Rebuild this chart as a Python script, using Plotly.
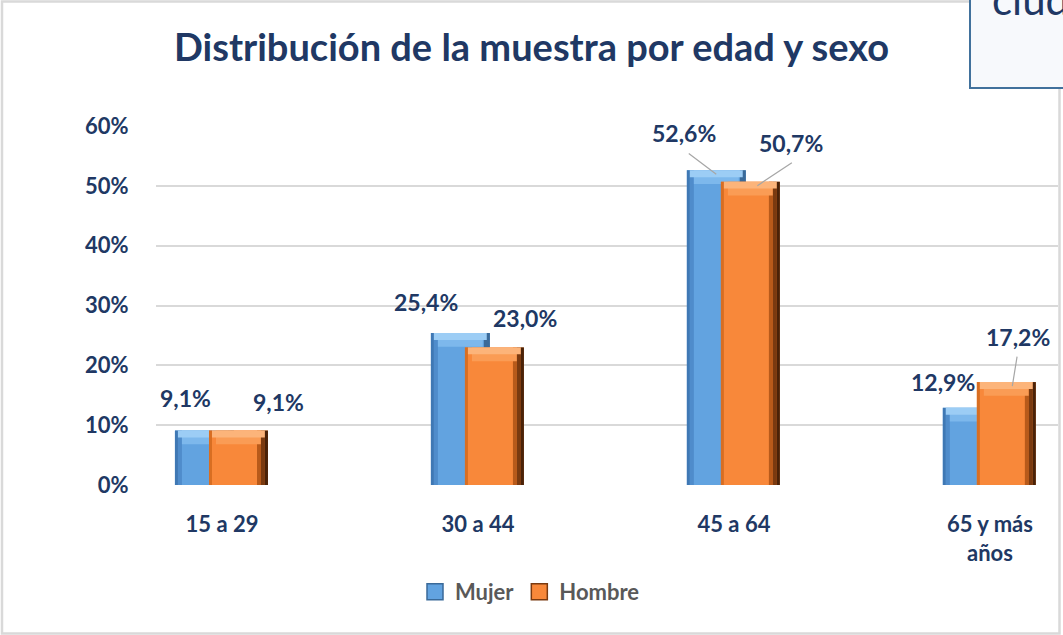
import plotly.graph_objects as go

# ---------------- data ----------------
categories = ["15 a 29", "30 a 44", "45 a 64", "65 y más años"]
category_labels = ["15 a 29", "30 a 44", "45 a 64", "65 y más<br>años"]
mujer = [9.1, 25.4, 52.6, 12.9]
hombre = [9.1, 23.0, 50.7, 17.2]
y_ticks = [0, 10, 20, 30, 40, 50, 60]
series_names = ["Mujer", "Hombre"]
title_text = "Distribución de la muestra por edad y sexo"

# ---------------- styling ----------------
W, H = 1063, 635
ML, MR, MT, MB = 156, 5, 126, 150
PW = W - ML - MR
PH = H - MT - MB
UNIT_PX = 256.0  # pixels per category step

def px_x(px):
    return (px - ML) / PW

def px_y(py):
    return (H - MB - py) / PH

NAVY = "#203864"
FONT = "Lato"

def fmt(v):
    return f"{v:.1f}%".replace(".", ",")

fig = go.Figure()

BW = 0.23
BEVEL = 2.3  # height of the lighter top face, in axis units

def add_bar(vals, base, offset, width, color):
    fig.add_trace(go.Bar(
        x=categories, y=vals, base=base, width=width, offset=offset,
        marker=dict(color=color, line=dict(width=0)),
        showlegend=False, hoverinfo="skip",
    ))

def add_series(vals, offset, main, top, top2, strips):
    add_bar(vals, None, offset, BW, main)
    for (start_px, w_px, col) in strips:
        add_bar(vals, None, offset + start_px / UNIT_PX, w_px / UNIT_PX, col)
    add_bar([BEVEL] * len(vals), [v - BEVEL for v in vals],
            offset + 7 / UNIT_PX, BW - 14 / UNIT_PX, top2)
    add_bar([BEVEL * 0.5] * len(vals), [v - BEVEL * 0.5 for v in vals],
            offset + 3 / UNIT_PX, BW - 6 / UNIT_PX, top)

M_OFF, H_OFF = -0.184, -0.051
add_series(mujer, M_OFF, "#62A3E0", "#9CCDF5", "#7DB8EC",
           [(0, 3, "#3F78B4"), (3, 4, "#4F8CCB"), (53, 6, "#3A6A99")])
add_series(hombre, H_OFF, "#F8883A", "#FCB47A", "#FA9C55",
           [(0, 3, "#D86E22"), (48, 4, "#B85A1A"), (52, 4, "#7A3A10"), (56, 3, "#4A2208")])

# legend entries (large square swatches)
for name, col, edge in [(series_names[0], "#62A3E0", "#3A6A99"),
                        (series_names[1], "#F8883A", "#7A3A10")]:
    fig.add_trace(go.Scatter(
        x=[None], y=[None], mode="markers", name=name,
        marker=dict(symbol="square", size=24, color=col, line=dict(color=edge, width=1.5)),
        hoverinfo="skip",
    ))

# data labels (style offsets in pixels relative to each bar top)
m_shift = [(-19, -33), (-34, -31), (-32, -37), (-29, -26)]
h_shift = [(40, -29), (31, -29), (41, -39), (12, -45)]
m_center = -17.7
h_center = 16.4
annotations = []
for i, c in enumerate(categories):
    dx, dy = m_shift[i]
    annotations.append(dict(x=c, y=mujer[i], xref="x", yref="y", text=fmt(mujer[i]),
                            showarrow=False, xshift=m_center + dx, yshift=-dy,
                            font=dict(family=FONT, size=23, color=NAVY, weight="bold")))
    dx, dy = h_shift[i]
    annotations.append(dict(x=c, y=hombre[i], xref="x", yref="y", text=fmt(hombre[i]),
                            showarrow=False, xshift=h_center + dx, yshift=-dy,
                            font=dict(family=FONT, size=23, color=NAVY, weight="bold")))

# leader lines
leaders = [
    (categories[2], mujer[2], m_center, -4, -29, -22),
    (categories[2], hombre[2], h_center + 7, -4, 36, -24),
    (categories[3], hombre[3], h_center + 6, -4, 5, -31),
]
for c, v, xs, ys, ax, ay in leaders:
    annotations.append(dict(x=c, y=v, xref="x", yref="y", text="", showarrow=True,
                            arrowhead=0, arrowwidth=1.2, arrowcolor="#A6A6A6",
                            ax=ax, ay=ay, xshift=xs, yshift=ys, standoff=0))

# cut-off text box at top right (clipped at the page edge, as in the source image)
annotations.append(dict(x=px_x(990), y=px_y(26), xref="paper", yref="paper", text="ciudad",
                        showarrow=False, xanchor="left", yanchor="bottom",
                        font=dict(family=FONT, size=42, color=NAVY)))

shapes = [
    dict(type="rect", xref="paper", yref="paper",
         x0=px_x(2), x1=px_x(1059.5), y0=px_y(633.5), y1=px_y(1.5),
         line=dict(color="#D9D9D9", width=2.5), fillcolor="rgba(0,0,0,0)", layer="below"),
    dict(type="rect", xref="paper", yref="paper",
         x0=px_x(970), x1=px_x(1075), y0=px_y(88), y1=px_y(-10),
         line=dict(color="#41719C", width=2), fillcolor="#F7F9FC", layer="below"),
]

fig.update_layout(
    width=W, height=H, autosize=False,
    margin=dict(l=ML, r=MR, t=MT, b=MB, pad=0),
    paper_bgcolor="white", plot_bgcolor="white",
    barmode="overlay",
    title=dict(text=title_text, x=0.5, xref="container", xanchor="center",
               y=1 - 48 / H, yref="container", yanchor="middle",
               font=dict(family=FONT, size=38, color=NAVY, weight="bold")),
    xaxis=dict(type="category", categoryorder="array", categoryarray=categories,
               tickvals=categories, ticktext=category_labels,
               range=[-0.258, 3.266], showgrid=False, zeroline=False, showline=False,
               ticks="outside", ticklen=20, tickcolor="rgba(0,0,0,0)",
               tickfont=dict(family=FONT, size=22, color=NAVY, weight="bold")),
    yaxis=dict(range=[0, 60], tickvals=y_ticks, ticktext=[f"{t}%" for t in y_ticks],
               showgrid=True, gridcolor="#D9D9D9", gridwidth=1.5, zeroline=False,
               showline=False, ticks="outside", ticklen=22, tickcolor="rgba(0,0,0,0)",
               tickfont=dict(family=FONT, size=22, color=NAVY, weight="bold")),
    legend=dict(orientation="h", x=px_x(530), xanchor="center", y=px_y(592), yanchor="middle",
                font=dict(family=FONT, size=22, color="#595959", weight="bold"),
                itemwidth=30, tracegroupgap=0, bgcolor="rgba(0,0,0,0)"),
    annotations=annotations,
    shapes=shapes,
)

fig.write_html("out.html", config={"displayModeBar": False},
               post_script="document.body.style.margin='0';")
